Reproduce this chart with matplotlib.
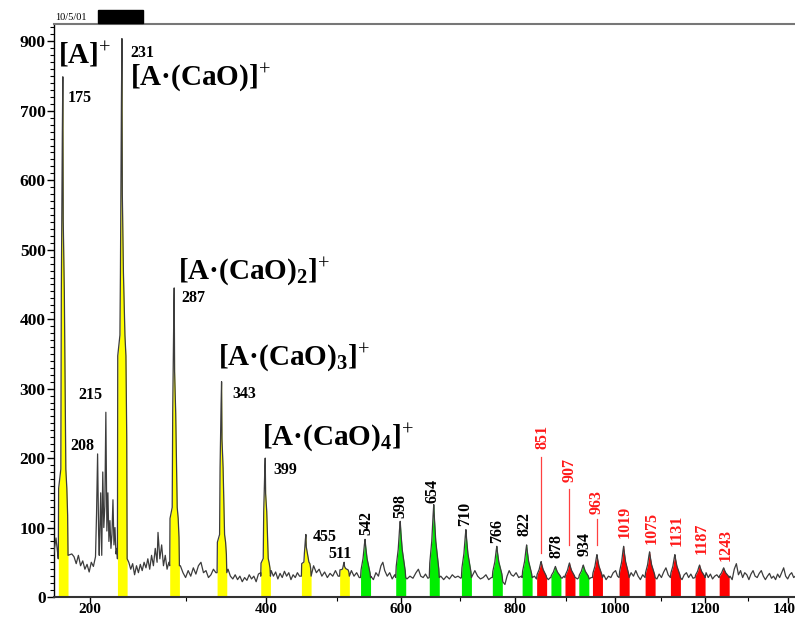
import numpy as np
import matplotlib
matplotlib.use("Agg")
import matplotlib.pyplot as plt
from matplotlib.ticker import MultipleLocator, FixedLocator
from matplotlib.patches import Rectangle

plt.rcParams["font.family"] = ["Liberation Serif", "DejaVu Serif"]
plt.rcParams["mathtext.fontset"] = "custom"
plt.rcParams["mathtext.rm"] = "Liberation Serif"
plt.rcParams["mathtext.it"] = "Liberation Serif:italic"
plt.rcParams["mathtext.bf"] = "Liberation Serif:bold"

# baseline (noise) points: m/z, intensity
base_mz = [167, 169, 171, 173,
           183, 185, 187, 189, 191, 193, 195, 197, 199, 201, 203, 205,
           206, 207, 208, 208.6, 210, 211, 212, 213, 214, 215, 216, 217, 218, 219,
           220, 221, 222, 223, 224, 225, 226, 227,
           238, 240, 242, 244, 246, 248, 250, 252, 254, 256, 258, 260, 262, 264,
           266, 268, 269, 271, 273, 275, 277, 279, 281,
           294, 297, 300, 303, 306, 309, 312, 315, 318, 321, 324, 327, 330, 333, 336,
           351, 354, 357, 360, 363, 366, 369, 372, 375, 378, 381, 384, 387, 390, 393,
           407, 410, 413, 416, 419, 422, 425, 428, 431, 434, 437, 440, 443, 446,
           466, 470, 474, 478, 482, 486, 490, 494, 498, 502, 506,
           518, 522, 526, 530, 534, 538,
           552, 556, 560, 564, 568, 571, 574, 578, 582, 586, 590, 594,
           605, 610, 615, 620, 625, 629, 633, 637, 641, 645, 649,
           667, 672, 677, 682, 687, 692, 697, 702,
           722, 727, 732, 737, 742, 747, 752, 757,
           778, 782, 786, 790, 794, 798, 803, 808, 813,
           834, 838, 842, 861, 865, 869, 873, 888, 892, 896, 900,
           915, 919, 923, 927, 943, 947, 951, 955,
           972, 977, 982, 987, 992, 997, 1002, 1006, 1010,
           1030, 1035, 1040, 1045, 1050, 1055, 1060, 1065,
           1086, 1091, 1096, 1101, 1106, 1111, 1116, 1121,
           1142, 1147, 1152, 1157, 1162, 1167, 1172, 1177,
           1197, 1202, 1207, 1212, 1217, 1222, 1227, 1232,
           1254, 1258, 1263, 1268, 1273, 1278, 1283, 1288, 1293, 1298, 1303, 1308,
           1313, 1318, 1323, 1328, 1333, 1338, 1343, 1348, 1353, 1358, 1363, 1368,
           1373, 1378, 1383, 1388, 1393, 1398, 1403, 1408, 1413, 1417]
base_int = [62, 85, 55, 70,
            62, 58, 48, 60, 45, 52, 40, 47, 36, 50, 44, 58,
            120, 206, 90, 60, 150, 60, 180, 100, 130, 266, 95, 150, 80, 110,
            70, 90, 140, 75, 100, 62, 70, 55,
            50, 40, 48, 32, 45, 35, 47, 38, 50, 42, 55, 40, 60, 45,
            70, 50, 93, 55, 75, 45, 60, 40, 50,
            45, 35, 28, 38, 30, 42, 33, 45, 50, 35, 38, 28, 32, 40, 35,
            40, 30, 26, 32, 25, 30, 22, 28, 24, 32, 26, 30, 22, 33, 35,
            38, 30, 36, 26, 34, 28, 37, 30, 35, 25, 32, 28, 35, 30,
            45, 35, 40, 30, 36, 28, 34, 30, 38, 30, 33,
            45, 38, 30, 35, 28, 32,
            30, 25, 35, 30, 45, 50, 38, 30, 35, 26, 32, 28,
            32, 26, 30, 27, 35, 40, 30, 28, 33, 27, 30,
            30, 25, 30, 26, 32, 28, 30, 27,
            30, 38, 30, 26, 28, 32, 25, 28,
            22, 18, 30, 38, 32, 30, 35, 28, 30,
            28, 30, 26, 30, 25, 28, 30, 30, 27, 30, 28,
            30, 28, 26, 30, 30, 26, 28, 30,
            28, 32, 25, 30, 28, 35, 38, 30, 27,
            28, 35, 30, 38, 30, 25, 32, 28,
            30, 26, 33, 28, 36, 42, 32, 28,
            30, 25, 32, 35, 28, 33, 27, 30,
            30, 35, 28, 33, 26, 30, 32, 28,
            35, 30, 25, 40, 48, 32, 38, 28, 35, 32, 25, 33,
            38, 30, 28, 34, 38, 30, 25, 30, 34, 27, 30, 25,
            33, 28, 35, 42, 30, 26, 32, 35, 28, 30]

# peaks: centre m/z, apex intensity, local baseline, shoulder level, series
peak_mz = [175, 231, 287, 343, 399, 455, 511,
           543, 599, 655, 711, 767, 823, 879, 935,
           851, 907, 963, 1019, 1075, 1131, 1187, 1243]
peak_top = [749, 804, 445, 310, 200, 90, 50,
            83, 109, 133, 97, 73, 75, 44, 46,
            51, 49, 61, 73, 65, 61, 46, 42]
peak_base = [60, 55, 45, 35, 30, 30, 30,
             28, 28, 28, 28, 28, 28, 28, 28,
             28, 28, 28, 28, 28, 28, 28, 28]
peak_shoulder = [0.14, 0.39, 0.17, 0.16, 0.11, 0.3, 0.45,
                 0.2, 0.2, 0.2, 0.2, 0.2, 0.2, 0.2, 0.2,
                 0.2, 0.2, 0.2, 0.2, 0.2, 0.2, 0.2, 0.2]
peak_series = ["y"] * 7 + ["g"] * 8 + ["r"] * 8

# peak profiles: offsets in pixels of the time axis, heights relative to apex
# ("s" = shoulder level of the peak, "s+" just above it, "s-" below it)
tall_dpx = [-4.5, -4.2, -2.0, -1.5, -0.5, 0, 0.4, 1.5, 3.0, 4.0, 4.8, 5.2]
tall_rel = [0, "s", "s+", 0.55, 0.88, 1.0, 0.7, 0.55, "s+", "s", "s-", 0]
tri_dpx = [-4.5, -4.0, -2.0, -0.7, 0, 0.7, 2.0, 4.0, 5.0, 5.5]
tri_rel = [0, "s", 0.5, 0.85, 1.0, 0.8, 0.5, 0.25, "s-", 0]
series_profile = {"y": (tall_dpx, tall_rel), "g": (tri_dpx, tri_rel), "r": (tri_dpx, tri_rel)}

series_colors = {"y": "#ffff00", "g": "#00ee00", "r": "#ff0000"}

xticks = [200, 400, 600, 800, 1000, 1200, 1400]
yticks = [0, 100, 200, 300, 400, 500, 600, 700, 800]
ytick_labels = ["0", "100", "200", "300", "400", "500", "600", "700", "900"]

species_labels = [r"$\mathbf{[A]}^{+}$",
                  r"$\mathbf{[A·(CaO)]}^{+}$",
                  r"$\mathbf{[A·(CaO)}_{\mathbf{2}}\mathbf{]}^{+}$",
                  r"$\mathbf{[A·(CaO)}_{\mathbf{3}}\mathbf{]}^{+}$",
                  r"$\mathbf{[A·(CaO)}_{\mathbf{4}}\mathbf{]}^{+}$"]
species_pos = [(170.7, 780), (239.2, 748), (291.3, 469), (338.6, 344), (394.7, 230)]

num_labels = ["175", "231", "287", "343", "399", "208", "215", "455", "511"]
num_pos = [(179.6, 719), (239.2, 783), (294.7, 430), (356, 292), (409.4, 183),
           (181.4, 217), (188.6, 291), (465.1, 86), (486.9, 62)]

vert_labels = ["542", "598", "654", "710", "766", "822", "878", "934"]
vert_pos = [(544.4, 106), (598.6, 131), (653.6, 153), (709.3, 119),
            (767.3, 95), (819.9, 105), (882.1, 73), (938.4, 76)]

red_labels = ["851", "907", "963", "1019", "1075", "1131", "1187", "1243"]
red_pos = [(854.6, 230), (908, 183), (963.1, 137), (1021.9, 108),
           (1080.2, 99), (1135.7, 96), (1192.6, 85), (1248.4, 75)]
red_lines = [(851, 64, 201), (907, 75, 155), (963, 75, 112)]

PX_PER_SQRT = 30.0


def peak_points(c, top, base, sh, series):
    dpx, rel = series_profile[series]
    ms = [(np.sqrt(c) + d / PX_PER_SQRT) ** 2 for d in dpx]
    ys = []
    for r in rel:
        if r == "s":
            r = sh
        elif r == "s+":
            r = sh + 0.04
        elif r == "s-":
            r = sh * 0.6
        ys.append(base + r * (top - base))
    ys[0] = min(ys[0], base)
    ys[-1] = min(ys[-1], base)
    return ms, ys


fig = plt.figure(figsize=(7.95, 6.17), dpi=100)
ax = fig.add_axes([54 / 795, 1 - 597 / 617, (795 - 54) / 795, (597 - 24) / 617])
ax.set_xscale("function", functions=(lambda v: np.sqrt(np.clip(v, 0, None)), np.square))

# assemble trace: baseline outside the peak windows, peak profiles inside
all_m, all_y = [], []
windows = []
for c, t, b, sh, s in zip(peak_mz, peak_top, peak_base, peak_shoulder, peak_series):
    ms, ys = peak_points(c, t, b, sh, s)
    windows.append((ms[0], ms[-1]))
    all_m += ms
    all_y += ys
    ax.fill_between(ms, 0, ys, color=series_colors[s], lw=0, zorder=2)
for m, y in zip(base_mz, base_int):
    if not any(lo <= m <= hi for lo, hi in windows):
        all_m.append(m)
        all_y.append(y)
order = np.argsort(all_m)
ax.plot(np.array(all_m)[order], np.array(all_y)[order], color="#3c3c3c", lw=0.9, zorder=3)

ax.set_xlim(167.3, 1416.3)
ax.set_ylim(0, 825)

ax.xaxis.set_major_locator(FixedLocator(xticks))
ax.xaxis.set_minor_locator(FixedLocator([300, 500, 700, 900, 1100, 1300]))
ax.set_xticklabels([str(v) for v in xticks])
ax.set_yticks(yticks)
ax.set_yticklabels(ytick_labels)
ax.yaxis.set_minor_locator(MultipleLocator(10))
ax.tick_params(axis="y", which="major", direction="out", length=5, width=1,
               labelsize=12.5, pad=1)
ax.tick_params(axis="x", which="major", direction="out", length=4, width=1,
               labelsize=11, pad=0)
ax.tick_params(axis="both", which="minor", direction="out", length=3, width=0.8)
for lab in ax.get_xticklabels() + ax.get_yticklabels():
    lab.set_fontweight("bold")

ax.spines["right"].set_visible(False)
ax.spines["top"].set_color("#777777")
ax.spines["top"].set_linewidth(1.5)
ax.spines["bottom"].set_color("#333333")
ax.spines["bottom"].set_linewidth(1.5)
ax.spines["left"].set_linewidth(1.0)

for txt, (x, y) in zip(species_labels, species_pos):
    ax.text(x, y, txt, fontsize=21, ha="left", va="center", zorder=5)
for txt, (x, y) in zip(num_labels, num_pos):
    ax.text(x, y, txt, fontsize=11.5, fontweight="bold", ha="left", va="center", zorder=5)
for txt, (x, y) in zip(vert_labels, vert_pos):
    ax.text(x, y, txt, fontsize=11.5, fontweight="bold", rotation=90,
            ha="center", va="center", zorder=5)
for txt, (x, y) in zip(red_labels, red_pos):
    ax.text(x, y, txt, fontsize=11.5, fontweight="bold", rotation=90, color="#ff1a1a",
            ha="center", va="center", zorder=5)
for x, y0, y1 in red_lines:
    ax.plot([x, x], [y0, y1], color="#ff4040", lw=0.9, zorder=4)

# small header tag above the frame
fig.patches.append(Rectangle((98 / 795, 1 - 23 / 617), 45 / 795, 13 / 617,
                             transform=fig.transFigure, color="black"))
fig.text(55 / 795, 1 - 17 / 617, "10/5/01", fontsize=7.5, ha="left", va="center")

fig.savefig("out.png", dpi=100)
